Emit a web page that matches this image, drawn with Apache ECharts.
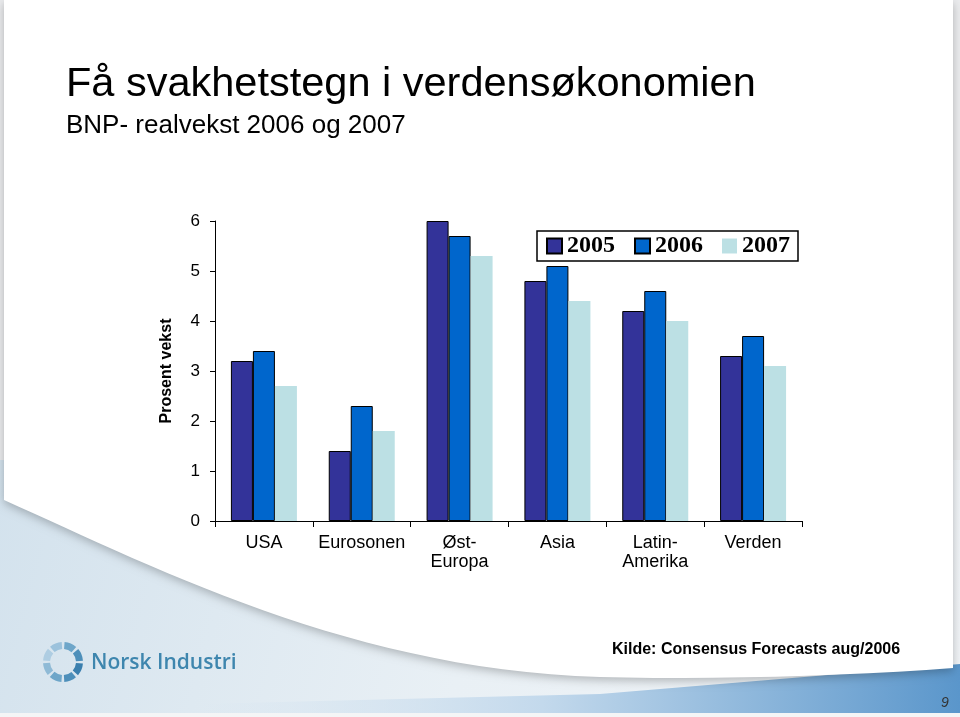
<!DOCTYPE html>
<html>
<head>
<meta charset="utf-8">
<title>BNP- realvekst 2006 og 2007</title>
<script src="https://cdn.jsdelivr.net/npm/echarts@6/dist/echarts.min.js"></script>
<style>
  html, body { margin: 0; padding: 0; background: #fff; }
  #chart { width: 960px; height: 717px; }
</style>
</head>
<body>
<div id="chart"></div>
<script>
// data
const regions = ['USA', 'Eurosonen', 'Øst-\nEuropa', 'Asia', 'Latin-\nAmerika', 'Verden'];
const years = ['2005', '2006', '2007'];
const vekst2005 = [3.2, 1.4, 6.0, 4.8, 4.2, 3.3];
const vekst2006 = [3.4, 2.3, 5.7, 5.1, 4.6, 3.7];
const vekst2007 = [2.7, 1.8, 5.3, 4.4, 4.0, 3.1];
const yMin = 0, yMax = 6, yStep = 1;

const barColors = ['#333399', '#0066CC', '#BCE0E4'];
const fontSans = 'Liberation Sans, Arial, sans-serif';

// outline of the white slide page (decoration only)
function cubic(p0, p1, p2, p3, n) {
  const pts = [];
  for (let i = 0; i <= n; i++) {
    const t = i / n, u = 1 - t;
    pts.push([
      u * u * u * p0[0] + 3 * u * u * t * p1[0] + 3 * u * t * t * p2[0] + t * t * t * p3[0],
      u * u * u * p0[1] + 3 * u * u * t * p1[1] + 3 * u * t * t * p2[1] + t * t * t * p3[1]
    ]);
  }
  return pts;
}
const pagePoints = [[4, 0], [953, 0], [953, 668]]
  .concat(cubic([953, 668], [850, 676], [700, 680], [600, 677], 12))
  .concat(cubic([600, 677], [350, 670], [150, 565], [4, 500], 30));

// logo blades for the Norsk Industri ring
const logoBlades = [];
const bladeColors = ['#3a7fae', '#4d8fba', '#6ea6c9', '#8fbad6', '#aecde2', '#9cc2dc', '#6ea6c9', '#4d8fba'];
for (let i = 0; i < 8; i++) {
  const a = i * Math.PI / 4;
  logoBlades.push({
    type: 'sector',
    shape: { cx: 63, cy: 662, r0: 13, r: 20, startAngle: a + 0.08, endAngle: a + 0.72 },
    style: { fill: bladeColors[i] }
  });
}

const chart = echarts.init(document.getElementById('chart'));

const option = {
  animation: false,
  backgroundColor: '#ebecee',
  graphic: [
    // bluish area bottom left, under the page
    {
      type: 'rect', z: -20,
      shape: { x: 0, y: 460, width: 960, height: 257 },
      style: {
        fill: new echarts.graphic.LinearGradient(0, 0, 1, 1, [
          { offset: 0, color: '#d3e2ed' },
          { offset: 0.5, color: '#e9f0f5' },
          { offset: 1, color: '#f1f4f7' }
        ])
      }
    },
    // blue band at the bottom
    {
      type: 'polygon', z: -19,
      shape: { points: [[200, 713], [200, 704], [600, 694], [960, 664], [960, 713]] },
      style: {
        fill: new echarts.graphic.LinearGradient(0, 0, 1, 0, [
          { offset: 0, color: 'rgba(210,226,240,0)' },
          { offset: 0.45, color: '#c3d9ec' },
          { offset: 1, color: '#5a96cb' }
        ])
      }
    },
    {
      type: 'rect', z: -18,
      shape: { x: 0, y: 713, width: 960, height: 4 },
      style: { fill: '#f4f5f6' }
    },
    // the white page
    {
      type: 'polygon', z: -10,
      shape: { points: pagePoints },
      style: {
        fill: '#ffffff',
        shadowColor: 'rgba(0,0,0,0.25)',
        shadowBlur: 10,
        shadowOffsetY: 3
      }
    },
    // logo
    ...logoBlades,
    {
      type: 'text', x: 91, y: 663,
      style: {
        text: 'Norsk Industri',
        fill: '#3e86ae',
        font: '600 21px "Open Sans", sans-serif',
        verticalAlign: 'middle'
      }
    },
    // titles
    {
      type: 'text', x: 66, y: 85,
      style: {
        text: 'Få svakhetstegn i verdensøkonomien',
        fill: '#000',
        font: '41.5px ' + fontSans,
        verticalAlign: 'middle'
      }
    },
    {
      type: 'text', x: 66, y: 126,
      style: {
        text: 'BNP- realvekst 2006 og 2007',
        fill: '#000',
        font: '26px ' + fontSans,
        verticalAlign: 'middle'
      }
    },
    // source
    {
      type: 'text', x: 612, y: 650,
      style: {
        text: 'Kilde: Consensus Forecasts aug/2006',
        fill: '#000',
        font: 'bold 16px ' + fontSans,
        verticalAlign: 'middle'
      }
    },
    // page number
    {
      type: 'text', x: 941, y: 703,
      style: {
        text: '9',
        fill: '#333',
        font: 'italic 14px ' + fontSans,
        verticalAlign: 'middle'
      }
    }
  ],
  legend: {
    data: years,
    left: 537,
    top: 231,
    orient: 'horizontal',
    icon: 'rect',
    itemWidth: 15,
    itemHeight: 15,
    itemGap: 19,
    padding: [3, 8, 3, 9],
    borderColor: '#000',
    borderWidth: 1.5,
    backgroundColor: '#fff',
    textStyle: {
      fontFamily: 'Liberation Serif, Times New Roman, serif',
      fontWeight: 'bold',
      fontSize: 24,
      color: '#000'
    }
  },
  grid: {
    left: 215,
    right: 158,
    top: 221,
    bottom: 196,
    containLabel: false
  },
  xAxis: {
    type: 'category',
    data: regions,
    axisLine: { lineStyle: { color: '#000', width: 1 } },
    axisTick: { show: true, length: 6, lineStyle: { color: '#000' } },
    axisLabel: {
      color: '#000',
      fontFamily: fontSans,
      fontSize: 18,
      lineHeight: 19,
      margin: 13,
      interval: 0
    },
    splitLine: { show: false }
  },
  yAxis: {
    type: 'value',
    min: yMin,
    max: yMax,
    interval: yStep,
    name: 'Prosent vekst',
    nameLocation: 'middle',
    nameGap: 40,
    nameTextStyle: {
      color: '#000',
      fontFamily: fontSans,
      fontWeight: 'bold',
      fontSize: 16
    },
    axisLine: { show: true, lineStyle: { color: '#000', width: 1 } },
    axisTick: { show: true, length: 5, lineStyle: { color: '#000' } },
    axisLabel: {
      color: '#000',
      fontFamily: fontSans,
      fontSize: 17,
      margin: 15
    },
    splitLine: { show: false }
  },
  series: [
    {
      name: years[0], type: 'bar', data: vekst2005,
      barWidth: 22, barGap: '0%',
      itemStyle: { color: barColors[0], borderColor: '#000', borderWidth: 1 }
    },
    {
      name: years[1], type: 'bar', data: vekst2006,
      barWidth: 22, barGap: '0%',
      itemStyle: { color: barColors[1], borderColor: '#000', borderWidth: 1 }
    },
    {
      name: years[2], type: 'bar', data: vekst2007,
      barWidth: 22, barGap: '0%',
      itemStyle: { color: barColors[2] }
    }
  ]
};

chart.setOption(option);
</script>
</body>
</html>
